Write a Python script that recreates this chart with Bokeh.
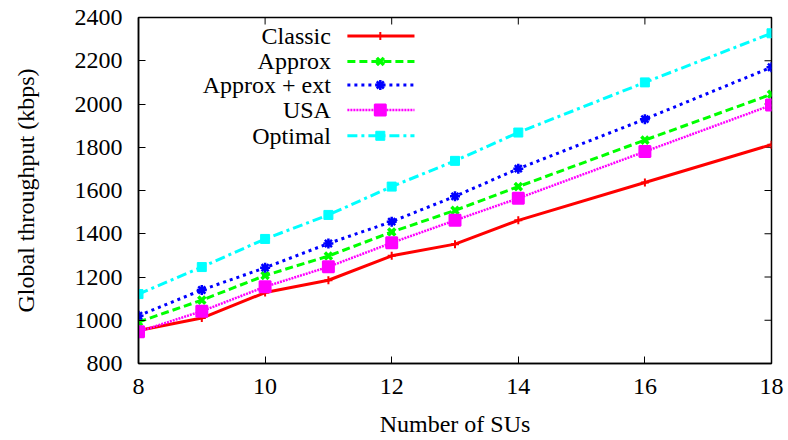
from bokeh.plotting import figure
from bokeh.models import Range1d, FixedTicker, ColumnDataSource
from bokeh.core.properties import value
from bokeh.embed import file_html
from bokeh.resources import INLINE

# ---- data ----
num_sus = [8, 9, 10, 11, 12, 13, 14, 16, 18]
classic = [953, 1010, 1128, 1185, 1298, 1352, 1462, 1637, 1812]
approx = [992, 1093, 1207, 1297, 1408, 1508, 1618, 1833, 2045]
approx_ext = [1021, 1140, 1243, 1355, 1456, 1573, 1701, 1930, 2170]
usa = [947, 1042, 1155, 1247, 1358, 1462, 1564, 1780, 1995]
optimal = [1121, 1246, 1376, 1487, 1618, 1737, 1868, 2100, 2327]

series_names = ["Classic", "Approx", "Approx + ext", "USA", "Optimal"]
series_values = [classic, approx, approx_ext, usa, optimal]
x_ticks = [8, 10, 12, 14, 16, 18]
y_ticks = [800, 1000, 1200, 1400, 1600, 1800, 2000, 2200, 2400]
X_MIN, X_MAX, Y_MIN, Y_MAX = 8, 18, 800, 2400

# ---- styles ----
styles = [
    dict(color="#ff0000", dash="solid", marker="cross", msize=8, mlw=2, width=3),
    dict(color="#00ff00", dash="8 4", marker="x", msize=10, mlw=3.5, width=3),
    dict(color="#0000ff", dash="3 4", marker="asterisk", msize=10, mlw=2.5, width=3),
    dict(color="#ff00ff", dash="2 1", marker="square", msize=11, mlw=2, width=2.5),
    dict(color="#00ffff", dash="10 4 3 4", marker="square", msize=9, mlw=1, width=3),
]

FONT = "Liberation Serif"
FONT_AX = "'Liberation Serif', serif"
FS = "24px"
W, H = 788, 440
BL, BR, BT, BB = 138, 17, 17, 77

p = figure(width=W, height=H, output_backend="svg", toolbar_location=None,
           x_range=Range1d(X_MIN, X_MAX), y_range=Range1d(Y_MIN, Y_MAX),
           min_border_left=BL, min_border_right=BR, min_border_top=BT, min_border_bottom=BB)
p.background_fill_color = "white"
p.border_fill_color = "white"
p.outline_line_color = "black"
p.outline_line_width = 1.5
p.xgrid.visible = False
p.ygrid.visible = False

for ax in (p.xaxis[0], p.yaxis[0]):
    ax.major_tick_in = 7
    ax.major_tick_out = 0
    ax.minor_tick_in = 0
    ax.minor_tick_out = 0
    ax.axis_line_color = "black"
    ax.axis_line_width = 1.5
    ax.major_tick_line_width = 1
    ax.major_label_text_font = FONT_AX
    ax.major_label_text_font_size = FS
    ax.major_label_text_color = "black"
    ax.axis_label_text_font = FONT_AX
    ax.axis_label_text_font_size = FS
    ax.axis_label_text_font_style = "normal"
    ax.axis_label_text_color = "black"

p.xaxis[0].ticker = FixedTicker(ticks=x_ticks)
p.yaxis[0].ticker = FixedTicker(ticks=y_ticks)
p.xaxis[0].axis_label = "Number of SUs"
p.yaxis[0].axis_label = "Global throughput (kbps)"
p.xaxis[0].major_label_standoff = 15
p.yaxis[0].major_label_standoff = 16
p.xaxis[0].axis_label_standoff = 14
p.yaxis[0].axis_label_standoff = 33

# mirror ticks on right and top (inward), derived from tick lists
frame_w = W - BL - BR
frame_h = H - BT - BB
tick_dx = 7 * (X_MAX - X_MIN) / frame_w
tick_dy = 7 * (Y_MAX - Y_MIN) / frame_h
p.segment(x0=[X_MAX] * len(y_ticks), y0=y_ticks, x1=[X_MAX - tick_dx] * len(y_ticks), y1=y_ticks,
          line_color="black", line_width=1)
p.segment(x0=x_ticks, y0=[Y_MAX] * len(x_ticks), x1=x_ticks, y1=[Y_MAX - tick_dy] * len(x_ticks),
          line_color="black", line_width=1)

# ---- series ----
for name, vals, st in zip(series_names, series_values, styles):
    src = ColumnDataSource(dict(x=num_sus, y=vals))
    p.line("x", "y", source=src, line_color=st["color"], line_width=st["width"],
           line_dash=st["dash"])
    p.scatter("x", "y", source=src, marker=st["marker"], size=st["msize"],
              line_color=st["color"], fill_color=st["color"], line_width=st["mlw"])

# ---- legend (gnuplot style: text right-aligned, sample on right) ----
leg_text_x = 11.04
leg_x0, leg_x1, leg_xm = 11.30, 12.36, 11.82
leg_rows = [2314, 2197, 2088, 1972, 1853]
for name, yrow, st in zip(series_names, leg_rows, styles):
    p.text(x=[leg_text_x], y=[yrow], text=[name], text_font=value(FONT),
           text_font_size=FS, text_align="right", text_baseline="middle",
           text_color="black")
    p.line(x=[leg_x0, leg_x1], y=[yrow, yrow], line_color=st["color"],
           line_width=st["width"], line_dash=st["dash"])
    p.scatter(x=[leg_xm], y=[yrow], marker=st["marker"], size=st["msize"],
              line_color=st["color"], fill_color=st["color"], line_width=st["mlw"])

open("out.html", "w").write(file_html(p, INLINE))
